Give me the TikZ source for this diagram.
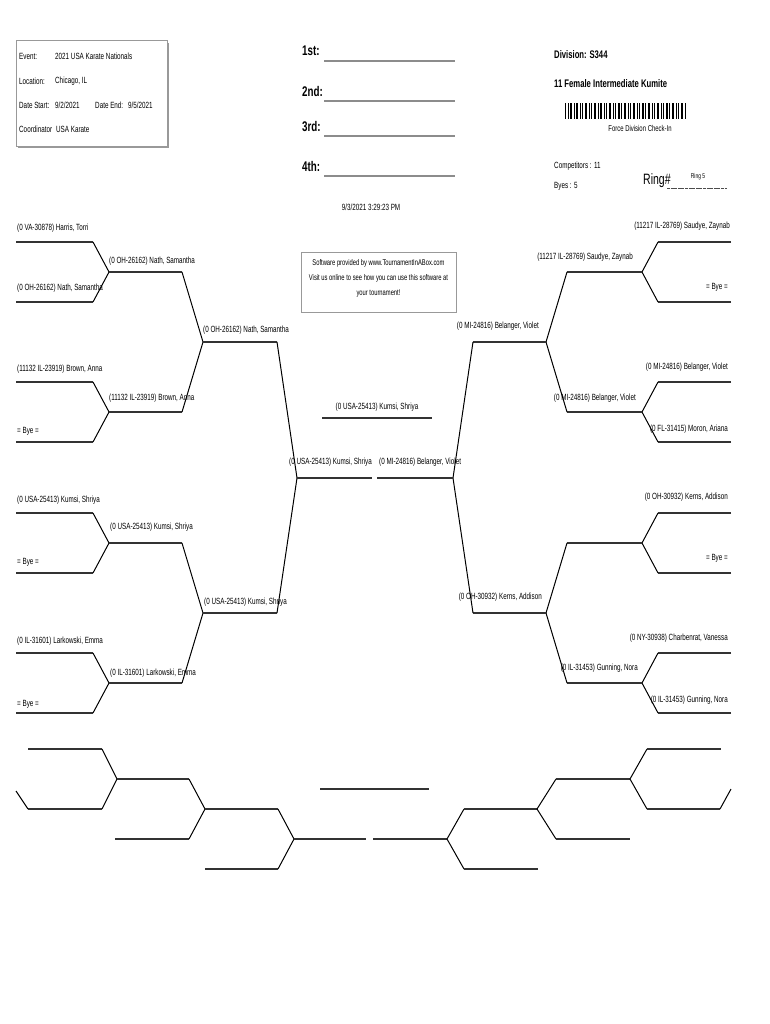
\documentclass[tikz,border=0pt]{standalone}
\usepackage{fontspec}
\setmainfont{Liberation Sans}[FakeStretch=0.7]
\begin{document}
\begin{tikzpicture}[x=1pt,y=-1pt,
  hline/.style={line width=2.2pt, draw=black!80},
  dline/.style={line width=1pt, draw=black},
  lab/.style={font=\fontsize{9}{10}\selectfont, inner sep=0pt},
  labl/.style={lab, anchor=west},
  labr/.style={lab, anchor=east},
  info/.style={font=\fontsize{9}{10}\selectfont, inner sep=0pt, anchor=west},
  place/.style={font=\bfseries\fontsize{14}{16}\selectfont, inner sep=0pt, anchor=west},
  placeline/.style={line width=1.4pt, draw=black!45},
  boxframe/.style={draw=black!40, line width=0.6pt}
]
\useasboundingbox (0,0) rectangle (770,1024);

% ---------- header: event box ----------
\fill[black!40] (18,43) rectangle (169,148.5);
\draw[boxframe, fill=white] (16,40) rectangle (167,146);
\node[info] (ev) at (19,56) {Event:};
\node[info] (evv) at (55,56) {2021 USA Karate Nationals};
\node[info] (lo) at (19,81) {Location:};
\node[info] (lov) at (55,81) {Chicago, IL};
\node[info] (ds) at (19,105) {Date Start:};
\node[info] (dsv) at (55,105) {9/2/2021};
\node[info] (de) at (95,105) {Date End:};
\node[info] (dev) at (128,105) {9/5/2021};
\node[info] (co) at (19,129) {Coordinator};
\node[info] (cov) at (56,129) {USA Karate};

% ---------- places ----------
\node[place] (p1) at (302,51) {1st:};
\node[place] (p2) at (302,91) {2nd:};
\node[place] (p3) at (302,127) {3rd:};
\node[place] (p4) at (302,166) {4th:};
\coordinate (p1a) at (324,61); \coordinate (p1b) at (455,61);
\coordinate (p2a) at (324,101); \coordinate (p2b) at (455,101);
\coordinate (p3a) at (324,136); \coordinate (p3b) at (455,136);
\coordinate (p4a) at (324,176); \coordinate (p4b) at (455,176);
\draw[placeline] (p1a) -- (p1b);
\draw[placeline] (p2a) -- (p2b);
\draw[placeline] (p3a) -- (p3b);
\draw[placeline] (p4a) -- (p4b);

% ---------- division info ----------
\node[font=\bfseries\fontsize{11}{13}\selectfont, inner sep=0pt, anchor=west] (div) at (554,55) {Division: S344};
\node[font=\bfseries\fontsize{11}{13}\selectfont, inner sep=0pt, anchor=west] (dname) at (554,84) {11 Female Intermediate Kumite};
\foreach \bx/\bw in {565/1,567.5/1,570/2,573.5/1,576/2,579.5/1,582/1,585/2.2,588.5/1,591/1,594/2,597.5/1,600/2,603.5/1,606/1,609/2.2,612.5/1,615/1,617.5/2,621/1,624/2,627.5/1,630/1,633/2.2,636.5/1,639/1,641.5/2,645/1,648/2,651.5/1,654/1,657/2.2,660.5/1,663/1,665.5/2,669/1,672/2,675.5/1,678/1,681/2.2,684.5/1.2}
  \fill[black] (\bx,103) rectangle ++(\bw,16);
\node[font=\fontsize{8.5}{10}\selectfont, inner sep=0pt] (fdc) at (640,128) {Force Division Check-In};
\node[info] (comp) at (554,166) {Competitors : 11};
\node[info] (byes) at (554,186) {Byes : 5};
\node[font=\fontsize{15}{17}\selectfont, inner sep=0pt, anchor=west] (ring) at (643,181) {Ring\#};
\coordinate (rla) at (667,188); \coordinate (rlb) at (727,188);
\draw[line width=0.8pt, draw=black!70, dash pattern=on 3pt off 0.6pt] (rla) -- (rlb);
\node[font=\fontsize{7}{8}\selectfont, inner sep=0pt] (ringv) at (698,177) {Ring 5};

\node[lab] (date) at (371,207) {9/3/2021 3:29:23 PM};

% ---------- software box ----------
\draw[boxframe] (301,252) rectangle (456,312);
\node[inner sep=0pt, align=center, font=\fontsize{8.3}{15}\selectfont] (soft) at (378.5,278) {Software provided by www.TournamentInABox.com\\Visit us online to see how you can use this software at\\your tournament!};

% ---------- bracket coordinates ----------
\foreach \i/\y in {1/242,2/302,3/382,4/442,5/513,6/573,7/653,8/713} {
  \coordinate (LA\i) at (16,\y); \coordinate (LB\i) at (93,\y);
  \coordinate (RA\i) at (731,\y); \coordinate (RB\i) at (658,\y);
}
\foreach \i/\y in {1/272,2/412,3/543,4/683} {
  \coordinate (LC\i) at (109,\y); \coordinate (LD\i) at (182,\y);
  \coordinate (RC\i) at (642,\y); \coordinate (RD\i) at (567,\y);
}
\foreach \i/\y in {1/342,2/613} {
  \coordinate (LE\i) at (203,\y); \coordinate (LF\i) at (277,\y);
  \coordinate (RE\i) at (546,\y); \coordinate (RF\i) at (473,\y);
}
\coordinate (LG) at (297,478); \coordinate (LH) at (372,478);
\coordinate (RG) at (453,478); \coordinate (RH) at (377,478);
\coordinate (FA) at (322,418); \coordinate (FB) at (432,418);

% ---------- bracket lines ----------
\foreach \i in {1,...,8} {
  \draw[hline] (LA\i) -- (LB\i);
  \draw[hline] (RA\i) -- (RB\i);
}
\foreach \i/\j in {1/1,2/1,3/2,4/2,5/3,6/3,7/4,8/4} {
  \draw[dline] (LB\i) -- (LC\j);
  \draw[dline] (RB\i) -- (RC\j);
}
\foreach \i in {1,...,4} {
  \draw[hline] (LC\i) -- (LD\i);
  \draw[hline] (RC\i) -- (RD\i);
}
\foreach \i/\j in {1/1,2/1,3/2,4/2} {
  \draw[dline] (LD\i) -- (LE\j);
  \draw[dline] (RD\i) -- (RE\j);
}
\foreach \i in {1,2} {
  \draw[hline] (LE\i) -- (LF\i);
  \draw[hline] (RE\i) -- (RF\i);
  \draw[dline] (LF\i) -- (LG);
  \draw[dline] (RF\i) -- (RG);
}
\draw[hline] (LG) -- (LH);
\draw[hline] (RG) -- (RH);
\draw[hline] (FA) -- (FB);

% ---------- bracket labels ----------
\node[labl] (n1) at (17,228) {(0 VA-30878) Harris, Torri};
\node[labl] (n2) at (17,288) {(0 OH-26162) Nath, Samantha};
\node[labl] (n3) at (17,369) {(11132 IL-23919) Brown, Anna};
\node[labl] (n4) at (17,431) {= Bye =};
\node[labl] (n5) at (17,500) {(0 USA-25413) Kumsi, Shriya};
\node[labl] (n6) at (17,562) {= Bye =};
\node[labl] (n7) at (17,641) {(0 IL-31601) Larkowski, Emma};
\node[labl] (n8) at (17,704) {= Bye =};
\node[labl] (m1) at (109,261) {(0 OH-26162) Nath, Samantha};
\node[labl] (m2) at (109,398) {(11132 IL-23919) Brown, Anna};
\node[labl] (m3) at (110,527) {(0 USA-25413) Kumsi, Shriya};
\node[labl] (m4) at (110,673) {(0 IL-31601) Larkowski, Emma};
\node[labl] (q1) at (203,330) {(0 OH-26162) Nath, Samantha};
\node[labl] (q2) at (204,602) {(0 USA-25413) Kumsi, Shriya};
\node[labl] (s1) at (289,462) {(0 USA-25413) Kumsi, Shriya};
\node[labl] (s2) at (379,462) {(0 MI-24816) Belanger, Violet};
\node[lab] (fin) at (377,407) {(0 USA-25413) Kumsi, Shriya};

\node[labr] (r1) at (730,226) {(11217 IL-28769) Saudye, Zaynab};
\node[labr] (r2) at (728,287) {= Bye =};
\node[labr] (r3) at (728,367) {(0 MI-24816) Belanger, Violet};
\node[labr] (r4) at (728,429) {(0 FL-31415) Moron, Ariana};
\node[labr] (r5) at (728,497) {(0 OH-30932) Kerns, Addison};
\node[labr] (r6) at (728,558) {= Bye =};
\node[labr] (r7) at (728,638) {(0 NY-30938) Charbenrat, Vanessa};
\node[labr] (r8) at (728,700) {(0 IL-31453) Gunning, Nora};
\node[labr] (rm1) at (633,257) {(11217 IL-28769) Saudye, Zaynab};
\node[labr] (rm2) at (636,398) {(0 MI-24816) Belanger, Violet};
\node[labr] (rm4) at (638,668) {(0 IL-31453) Gunning, Nora};
\node[labr] (rq1) at (539,326) {(0 MI-24816) Belanger, Violet};
\node[labr] (rq2) at (542,597) {(0 OH-30932) Kerns, Addison};

% ---------- consolation bracket ----------
\coordinate (CA1) at (28,749); \coordinate (CB1) at (102,749);
\coordinate (CA2) at (28,809); \coordinate (CB2) at (102,809);
\coordinate (CX) at (16,791);
\coordinate (CJ1) at (117,779); \coordinate (CK1) at (189,779);
\coordinate (CE1) at (115,839); \coordinate (CE2) at (189,839);
\coordinate (CJ2) at (205,809); \coordinate (CK2) at (278,809);
\coordinate (CG1) at (205,869); \coordinate (CG2) at (278,869);
\coordinate (CJ3) at (294,839); \coordinate (CK3) at (366,839);
\coordinate (CM1) at (320,789); \coordinate (CM2) at (429,789);
\coordinate (DK3) at (373,839); \coordinate (DJ3) at (447,839);
\coordinate (DJ2) at (464,809); \coordinate (DK2) at (537,809);
\coordinate (DG1) at (464,869); \coordinate (DG2) at (538,869);
\coordinate (DJ1) at (556,779); \coordinate (DK1) at (630,779);
\coordinate (DE1) at (556,839); \coordinate (DE2) at (630,839);
\coordinate (DA1) at (647,749); \coordinate (DB1) at (721,749);
\coordinate (DA2) at (647,809); \coordinate (DB2) at (720,809);
\coordinate (DX) at (731,789);

\draw[hline] (CA1) -- (CB1);
\draw[hline] (CA2) -- (CB2);
\draw[dline] (CX) -- (CA2);
\draw[dline] (CB1) -- (CJ1);
\draw[dline] (CB2) -- (CJ1);
\draw[hline] (CJ1) -- (CK1);
\draw[hline] (CE1) -- (CE2);
\draw[dline] (CK1) -- (CJ2);
\draw[dline] (CE2) -- (CJ2);
\draw[hline] (CJ2) -- (CK2);
\draw[hline] (CG1) -- (CG2);
\draw[dline] (CK2) -- (CJ3);
\draw[dline] (CG2) -- (CJ3);
\draw[hline] (CJ3) -- (CK3);
\draw[hline] (CM1) -- (CM2);
\draw[hline] (DK3) -- (DJ3);
\draw[dline] (DJ3) -- (DJ2);
\draw[dline] (DJ3) -- (DG1);
\draw[hline] (DJ2) -- (DK2);
\draw[hline] (DG1) -- (DG2);
\draw[dline] (DK2) -- (DJ1);
\draw[dline] (DK2) -- (DE1);
\draw[hline] (DJ1) -- (DK1);
\draw[hline] (DE1) -- (DE2);
\draw[dline] (DK1) -- (DA1);
\draw[dline] (DK1) -- (DA2);
\draw[hline] (DA1) -- (DB1);
\draw[hline] (DA2) -- (DB2);
\draw[dline] (DB2) -- (DX);
\end{tikzpicture}
\end{document}
